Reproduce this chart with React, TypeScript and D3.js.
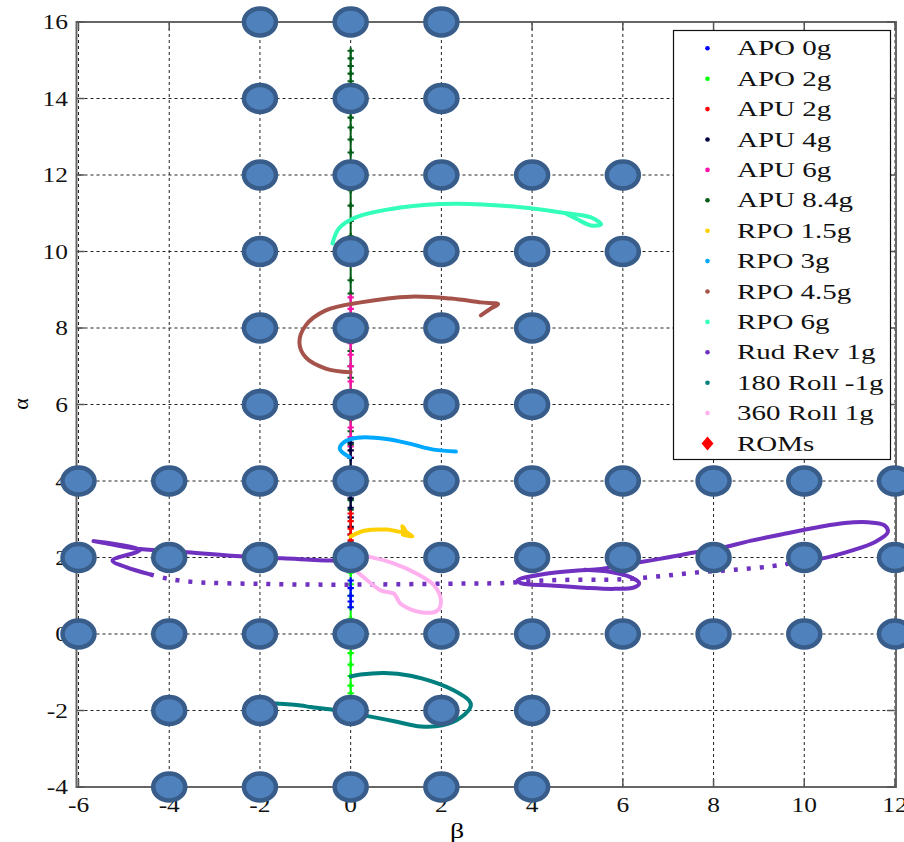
import React, { useEffect, useRef } from "react";
import * as d3 from "d3";

const width = 904;
const height = 842;

const xTicks = [-6, -4, -2, 0, 2, 4, 6, 8, 10, 12];
const yTicks = [-4, -2, 0, 2, 4, 6, 8, 10, 12, 14, 16];

// ROM test points (beta values per alpha row)
const romRows = [
  { alpha: 16, betas: [-2, 0, 2] },
  { alpha: 14, betas: [-2, 0, 2] },
  { alpha: 12, betas: [-2, 0, 2, 4, 6] },
  { alpha: 10, betas: [-2, 0, 2, 4, 6] },
  { alpha: 8, betas: [-2, 0, 2, 4] },
  { alpha: 6, betas: [-2, 0, 2, 4] },
  { alpha: 4, betas: [-6, -4, -2, 0, 2, 4, 6, 8, 10, 12] },
  { alpha: 2, betas: [-6, -4, -2, 0, 2, 4, 6, 8, 10, 12] },
  { alpha: 0, betas: [-6, -4, -2, 0, 2, 4, 6, 8, 10, 12] },
  { alpha: -2, betas: [-4, -2, 0, 2, 4] },
  { alpha: -4, betas: [-4, -2, 0, 2, 4] },
];

const legendNames = [
  "APO 0g", "APO 2g", "APU 2g", "APU 4g", "APU 6g", "APU 8.4g",
  "RPO 1.5g", "RPO 3g", "RPO 4.5g", "RPO 6g", "Rud Rev 1g",
  "180 Roll -1g", "360 Roll 1g", "ROMs",
];
const legendColors = [
  "#0000ff", "#00ff00", "#ff0000", "#000040", "#ff10a8", "#005c14",
  "#ffd000", "#00a8ff", "#a5524a", "#33ffbb", "#7030c0",
  "#007f7f", "#ffb0ee", "#ff0000",
];

// stems along beta = 0  [beta, alpha]
const apo0g = [[0, 1.4], [0, 1.2], [0, 1.0], [0, 0.85], [0, 0.7]];
const apo2g = [[0, 1.6], [0, 1.3], [0, 1.0], [0, 0.7], [0, 0.4], [0, 0.1], [0, -0.2], [0, -0.5], [0, -0.8], [0, -1.1], [0, -1.35], [0, -1.55]];
const apu2g = [[0, 3.15], [0, 2.95], [0, 2.75], [0, 2.6], [0, 2.45]];
const apu4g = [[0, 5.0], [0, 4.8], [0, 4.6], [0, 3.55], [0, 3.3], [0, 3.05], [0, 2.8], [0, 2.6], [0, 2.4]];
const apu6g = [[0, 8.8], [0, 8.5], [0, 8.2], [0, 7.6], [0, 7.3], [0, 7.0], [0, 6.6], [0, 5.4], [0, 5.15], [0, 4.9], [0, 4.62]];
const apu84g = [[0, 15.25], [0, 15.05], [0, 14.85], [0, 14.65], [0, 14.45], [0, 14.3], [0, 13.5], [0, 13.24], [0, 12.93], [0, 12.59], [0, 11.6], [0, 11.2], [0, 10.8], [0, 10.4], [0, 9.7], [0, 9.25], [0, 8.9], [0, 8.2], [0, 7.8], [0, 7.4], [0, 7.0], [0, 6.7], [0, 5.6], [0, 5.3], [0, 4.95], [0, 3.5], [0, 3.25]];

// curves [beta, alpha]
const rpo15g = [[0, 2.55], [0.3, 2.7], [0.8, 2.73], [1.15, 2.68], [1.14, 2.82], [1.22, 2.68], [1.36, 2.55], [1.15, 2.6]];
const rpo3g = [[-0.02, 4.62], [-0.24, 4.84], [-0.15, 5.01], [0.15, 5.13], [0.79, 5.1], [1.32, 4.97], [1.83, 4.82], [2.32, 4.77]];
const rpo45g = [[0, 6.84], [-0.55, 6.94], [-0.99, 7.23], [-1.13, 7.62], [-0.99, 8.07], [-0.55, 8.46], [0.22, 8.67], [1.32, 8.82], [2.21, 8.77], [2.87, 8.67], [3.25, 8.62], [3.09, 8.51], [2.87, 8.33]];
const rpo6g = [[-0.4, 10.21], [-0.26, 10.6], [0.11, 10.89], [1.1, 11.15], [2.32, 11.25], [3.53, 11.18], [4.64, 11.02], [5.3, 10.89], [5.52, 10.71], [5.3, 10.68], [4.97, 10.86], [4.75, 10.99]];
const rudRevSlow1 = [[0, 1.92], [-0.44, 1.92], [-1.5, 1.98], [-2.43, 2.03], [-3.61, 2.14], [-4.64, 2.22], [-5.67, 2.43], [-4.64, 2.2], [-5.25, 1.92], [-4.95, 1.75], [-4.42, 1.56]];
const rudRevFast = [[-4.42, 1.56], [-4.05, 1.45], [-3.46, 1.36], [-2, 1.31], [-0.44, 1.29], [1, 1.3], [2.5, 1.32], [3.31, 1.33], [4.27, 1.4], [5.2, 1.42], [5.8, 1.42], [6.33, 1.46], [6.99, 1.53], [7.73, 1.62], [8.46, 1.68], [9.2, 1.76], [9.62, 1.83]];
const rudRevSlow2 = [[9.62, 1.83], [10.38, 1.97], [11.04, 2.18], [11.55, 2.4], [11.84, 2.66], [11.77, 2.84], [11.4, 2.92], [10.89, 2.9], [10.3, 2.79], [9.56, 2.62], [8.83, 2.44], [8.09, 2.23], [7.42, 2.1], [6.84, 1.97], [6.4, 1.88], [5.52, 1.7], [5.0, 1.66], [4.27, 1.57], [3.68, 1.4], [3.75, 1.33], [4.42, 1.27], [5.15, 1.21], [5.81, 1.18], [6.25, 1.22], [6.36, 1.33], [6.18, 1.48], [5.74, 1.62], [5.15, 1.68]];
const roll180 = [[-1.66, -1.82], [-1.1, -1.87], [-0.88, -1.91], [-0.4, -1.98], [0.44, -2.16], [0.96, -2.28], [1.55, -2.42], [2.02, -2.39], [2.43, -2.18], [2.65, -1.87], [2.61, -1.74], [2.28, -1.48], [1.84, -1.26], [1.32, -1.09], [0.74, -1.02], [0.22, -1.06], [0, -1.11]];
const roll360 = [[-0.3, 1.85], [0.1, 2.05], [0.44, 2.01], [0.96, 1.84], [1.47, 1.57], [1.84, 1.27], [1.99, 0.88], [1.91, 0.61], [1.55, 0.57], [1.1, 0.79], [0.96, 1.05], [0.66, 1.14], [0.37, 1.4], [0.15, 1.62]];

const stems = [
  { pts: apo2g, color: legendColors[1] },
  { pts: apo0g, color: legendColors[0] },
  { pts: apu84g, color: legendColors[5] },
  { pts: apu6g, color: legendColors[4] },
  { pts: apu4g, color: legendColors[3] },
  { pts: apu2g, color: legendColors[2] },
];

const curves = [
  { pts: rudRevSlow1, color: legendColors[10], dotted: false },
  { pts: rudRevFast, color: legendColors[10], dotted: true },
  { pts: rudRevSlow2, color: legendColors[10], dotted: false },
  { pts: roll360, color: legendColors[12], dotted: false },
  { pts: rpo15g, color: legendColors[6], dotted: false },
  { pts: rpo3g, color: legendColors[7], dotted: false },
  { pts: rpo45g, color: legendColors[8], dotted: false },
  { pts: rpo6g, color: legendColors[9], dotted: false },
  { pts: roll180, color: legendColors[11], dotted: false },
];

const FONT = "'Liberation Serif', 'DejaVu Serif', serif";

const App = () => {
  const svgRef = useRef<SVGSVGElement | null>(null);

  useEffect(() => {
    const svg = d3.select(svgRef.current);
    svg.selectAll("*").remove();

    const x = d3.scaleLinear().domain([-6, 12]).range([78.5, 895]);
    const y = d3.scaleLinear().domain([-4, 16]).range([787, 22]);

    // grid
    const grid = svg.append("g");
    grid.selectAll(".gx").data(xTicks).enter().append("line")
      .attr("x1", (d) => x(d)).attr("x2", (d) => x(d))
      .attr("y1", y(16)).attr("y2", y(-4))
      .attr("stroke", "#222").attr("stroke-width", 1).attr("stroke-dasharray", "3,3");
    grid.selectAll(".gy").data(yTicks).enter().append("line")
      .attr("x1", x(-6)).attr("x2", x(12))
      .attr("y1", (d) => y(d)).attr("y2", (d) => y(d))
      .attr("stroke", "#222").attr("stroke-width", 1).attr("stroke-dasharray", "3,3");

    // box + inward ticks
    svg.append("rect")
      .attr("x", x(-6) - 2).attr("y", y(16)).attr("width", x(12) - x(-6) + 3).attr("height", y(-4) - y(16))
      .attr("fill", "none").attr("stroke", "#666").attr("stroke-width", 2);
    const ticks = svg.append("g").attr("stroke", "#555").attr("stroke-width", 1.5);
    xTicks.forEach((t) => {
      ticks.append("line").attr("x1", x(t)).attr("x2", x(t)).attr("y1", y(-4)).attr("y2", y(-4) - 8);
      ticks.append("line").attr("x1", x(t)).attr("x2", x(t)).attr("y1", y(16)).attr("y2", y(16) + 8);
    });
    yTicks.forEach((t) => {
      ticks.append("line").attr("x1", x(-6) - 2).attr("x2", x(-6) + 6).attr("y1", y(t)).attr("y2", y(t));
      ticks.append("line").attr("x1", x(12)).attr("x2", x(12) - 8).attr("y1", y(t)).attr("y2", y(t));
    });

    // tick labels
    svg.selectAll(".xl").data(xTicks).enter().append("text")
      .attr("transform", (d) => `translate(${x(d)},812) scale(1.27,1)`)
      .attr("text-anchor", "middle").attr("font-family", FONT).attr("font-size", 20)
      .attr("fill", "#111").text((d) => d);
    svg.selectAll(".yl").data(yTicks).enter().append("text")
      .attr("transform", (d) => `translate(68,${y(d) + 7}) scale(1.27,1)`)
      .attr("text-anchor", "end").attr("font-family", FONT).attr("font-size", 20)
      .attr("fill", "#111").text((d) => d);

    svg.append("text")
      .attr("transform", "translate(457,838) scale(1.27,1)")
      .attr("text-anchor", "middle").attr("font-family", FONT).attr("font-size", 22).text("β");
    svg.append("text")
      .attr("transform", "translate(28,404) rotate(-90)")
      .attr("text-anchor", "middle").attr("font-family", FONT).attr("font-size", 22).text("α");

    // stems along beta = 0
    const line = d3.line<number[]>().x((d) => x(d[0])).y((d) => y(d[1]));
    stems.forEach((s) => {
      svg.append("path").attr("d", line(s.pts)).attr("fill", "none")
        .attr("stroke", s.color).attr("stroke-width", 2);
      svg.append("g").selectAll("path").data(s.pts).enter().append("path")
        .attr("d", d3.symbol(d3.symbolCross, 22)())
        .attr("transform", (d) => `translate(${x(d[0])},${y(d[1])})`)
        .attr("fill", s.color);
    });

    // trajectories
    const curve = d3.line<number[]>()
      .x((d) => x(d[0])).y((d) => y(d[1]))
      .curve(d3.curveCatmullRom.alpha(0.5));
    curves.forEach((c) => {
      svg.append("path").attr("d", curve(c.pts)).attr("fill", "none")
        .attr("stroke", c.color)
        .attr("stroke-width", c.dotted ? 4.5 : 4)
        .attr("stroke-linejoin", "round")
        .attr("stroke-linecap", c.dotted ? "butt" : "round")
        .attr("stroke-dasharray", c.dotted ? "4,9" : null);
    });

    // ROM points
    const roms = romRows.flatMap((r) => r.betas.map((b) => ({ b, a: r.alpha })));
    svg.append("g").selectAll("ellipse").data(roms).enter().append("ellipse")
      .attr("cx", (d) => x(d.b)).attr("cy", (d) => y(d.a))
      .attr("rx", 16).attr("ry", 13.5)
      .attr("fill", "#4f81bd").attr("stroke", "#385d8a").attr("stroke-width", 4.5);

    // legend
    const lg = svg.append("g");
    lg.append("rect").attr("x", 673.5).attr("y", 30.5).attr("width", 217).attr("height", 429)
      .attr("fill", "#fff").attr("stroke", "#111").attr("stroke-width", 1.2);
    legendNames.forEach((name, i) => {
      const cy = 48.3 + i * 30.4;
      if (name === "ROMs") {
        lg.append("path").attr("d", "M0,-7 L6,0 L0,7 L-6,0 Z")
          .attr("transform", `translate(707.5,${cy})`).attr("fill", legendColors[i]);
      } else {
        lg.append("circle").attr("cx", 707.5).attr("cy", cy).attr("r", 2.3).attr("fill", legendColors[i]);
      }
      lg.append("text")
        .attr("transform", `translate(737,${cy + 7}) scale(1.38,1)`)
        .attr("font-family", FONT).attr("font-size", 21).attr("fill", "#111").text(name);
    });
  }, []);

  return (
    <svg ref={svgRef} width={width} height={height}
      style={{ position: "absolute", left: 0, top: 0, background: "#fff" }} />
  );
};

export default App;
